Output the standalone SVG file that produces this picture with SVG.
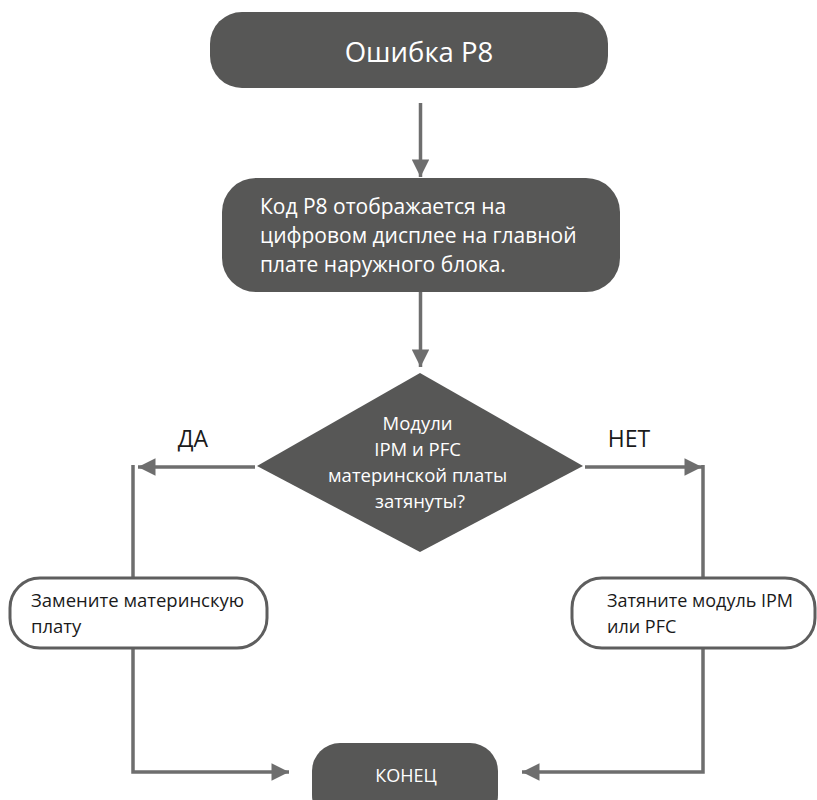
<svg xmlns="http://www.w3.org/2000/svg" width="817" height="800" viewBox="0 0 817 800">
  <defs>
    <marker id="arrow" viewBox="0 0 10 10" refX="10" refY="5" markerWidth="5.5" markerHeight="5" markerUnits="strokeWidth" orient="auto">
      <path d="M0,0 L10,5 L0,10 Z" fill="#6e6e6e"/>
    </marker>
    <style>
      .dark { fill: #575756; }
      .light { fill: #ffffff; stroke: #5e5e5e; stroke-width: 3; }
      .wt { fill: #ffffff; font-family: "Open Sans", "Liberation Sans", sans-serif; }
      .bt { fill: #1a1a1a; font-family: "Open Sans", "Liberation Sans", sans-serif; }
      .conn { fill: none; stroke: #6e6e6e; stroke-width: 3.5; }
      .arr { marker-end: url(#arrow); }
    </style>
  </defs>

  <!-- connectors -->
  <g id="connectors">
    <path class="conn arr" d="M420.5,103 V177"/>
    <path class="conn arr" d="M420.5,292 V367"/>
    <path class="conn arr" d="M255,467 H138"/>
    <path class="conn arr" d="M585,467 H702"/>
    <path class="conn" d="M133,465 V578"/>
    <path class="conn" d="M703,465 V578"/>
    <path class="conn arr" d="M133,648 V772 H289"/>
    <path class="conn arr" d="M703,648 V772 H522"/>
  </g>

  <!-- start -->
  <g id="start">
    <rect class="dark" x="210" y="12" width="398" height="76" rx="32"/>
    <text class="wt" x="419" y="62" font-size="27.5" text-anchor="middle">Ошибка P8</text>
  </g>

  <!-- display message -->
  <g id="display">
    <rect class="dark" x="222" y="178" width="398" height="114" rx="34"/>
    <text class="wt" font-size="21">
      <tspan x="260" y="214">Код P8 отображается на</tspan>
      <tspan x="260" y="243">цифровом дисплее на главной</tspan>
      <tspan x="260" y="272">плате наружного блока.</tspan>
    </text>
  </g>

  <!-- decision -->
  <g id="decision">
    <polygon class="dark" points="420,373 583,466 420,552 257,466"/>
    <text class="wt" font-size="18.5" text-anchor="middle">
      <tspan x="420" y="430">Модули</tspan>
      <tspan x="420" y="456">IPM и PFC</tspan>
      <tspan x="420" y="482">материнской платы</tspan>
      <tspan x="420" y="508">затянуты?</tspan>
    </text>
  </g>

  <!-- branch labels -->
  <g id="label-yes">
    <text class="bt" x="193" y="447" font-size="23" text-anchor="middle">ДА</text>
  </g>
  <g id="label-no">
    <text class="bt" x="629" y="447" font-size="23" text-anchor="middle">НЕТ</text>
  </g>

  <!-- replace board -->
  <g id="replace">
    <rect class="light" x="10" y="578" width="257" height="70" rx="30"/>
    <text class="bt" font-size="18.5">
      <tspan x="31" y="607">Замените материнскую</tspan>
      <tspan x="31" y="633">плату</tspan>
    </text>
  </g>

  <!-- tighten module -->
  <g id="tighten">
    <rect class="light" x="572" y="578" width="243" height="70" rx="30"/>
    <text class="bt" font-size="18">
      <tspan x="607" y="607">Затяните модуль IPM</tspan>
      <tspan x="607" y="633">или PFC</tspan>
    </text>
  </g>

  <!-- end -->
  <g id="end">
    <rect class="dark" x="312" y="743" width="186" height="80" rx="28"/>
    <text class="wt" x="406" y="782" font-size="18" text-anchor="middle">КОНЕЦ</text>
  </g>
</svg>
